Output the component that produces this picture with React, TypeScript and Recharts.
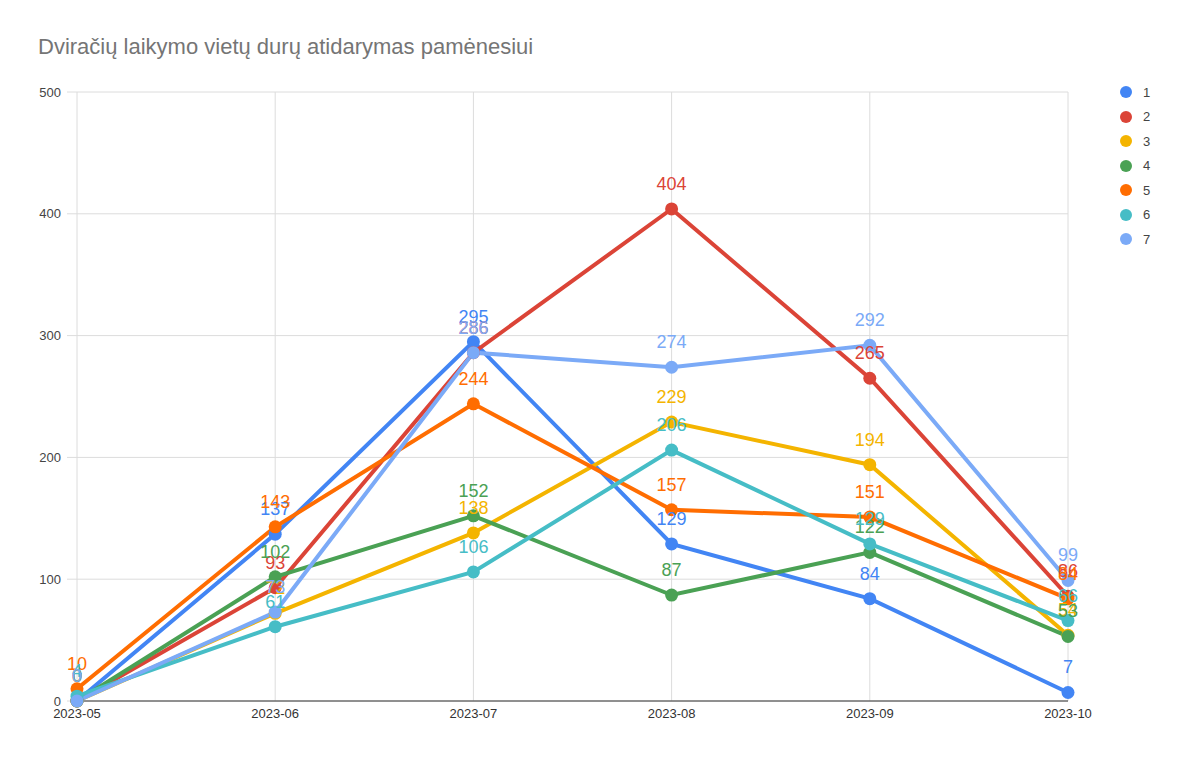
import React from 'react'
import {
  LineChart,
  Line,
  XAxis,
  YAxis,
  CartesianGrid,
  LabelList,
} from 'recharts'

const months = ['2023-05', '2023-06', '2023-07', '2023-08', '2023-09', '2023-10']
const s1 = [0, 137, 295, 129, 84, 7]
const s2 = [0, 93, 286, 404, 265, 86]
const s3 = [0, 72, 138, 229, 194, 54]
const s4 = [0, 102, 152, 87, 122, 53]
const s5 = [10, 143, 244, 157, 151, 84]
const s6 = [4, 61, 106, 206, 129, 66]
const s7 = [0, 73, 286, 274, 292, 99]
const yTicks = [0, 100, 200, 300, 400, 500]

const seriesNames = ['1', '2', '3', '4', '5', '6', '7']
const seriesValues = [s1, s2, s3, s4, s5, s6, s7]
const colors = ['#4285F4', '#DB4437', '#F4B400', '#4AA154', '#FF6D01', '#46BDC6', '#7BAAF7']

const data = months.map((m, i) => {
  const row: Record<string, string | number> = { month: m }
  seriesNames.forEach((n, k) => {
    row['s' + n] = seriesValues[k][i]
  })
  return row
})

const font = 'Arial, "Liberation Sans", sans-serif'

function LegendBox() {
  return (
    <div style={{ position: 'absolute', left: 1120, top: 80, fontFamily: font }}>
      {seriesNames.map((n, k) => (
        <div
          key={n}
          style={{ display: 'flex', alignItems: 'center', height: 24.5 }}
        >
          <span
            style={{
              width: 12,
              height: 12,
              borderRadius: '50%',
              background: colors[k],
              display: 'inline-block',
              marginRight: 11,
            }}
          />
          <span style={{ fontSize: 13, color: '#444' }}>{n}</span>
        </div>
      ))}
    </div>
  )
}

export default function App() {
  return (
    <div style={{ position: 'absolute', left: 0, top: 0, width: 1200, height: 760, background: '#fff' }}>
      <div
        style={{
          position: 'absolute',
          left: 38,
          top: 34,
          fontFamily: font,
          fontSize: 22,
          lineHeight: '26px',
          color: '#757575',
        }}
      >
        Dviračių laikymo vietų durų atidarymas pamėnesiui
      </div>
      <LegendBox />
      <LineChart
        width={1200}
        height={760}
        data={data}
        margin={{ top: 92, right: 132, left: 0, bottom: 29 }}
        style={{ fontFamily: font, position: 'absolute', left: 0, top: 0 }}
      >
        <CartesianGrid stroke="#dcdcdc" strokeWidth={1} />
        <XAxis
          dataKey="month"
          interval={0}
          height={30}
          tickSize={0}
          tickMargin={8}
          axisLine={{ stroke: '#333', strokeWidth: 1 }}
          tick={{ fontSize: 13, fill: '#333' }}
        />
        <YAxis
          width={77}
          domain={[0, 500]}
          ticks={yTicks}
          tickSize={10}
          tickMargin={6}
          tickLine={{ stroke: '#dcdcdc' }}
          axisLine={false}
          tick={{ fontSize: 13, fill: '#444' }}
        />
        {seriesNames.map((n, k) => (
          <Line
            key={n}
            type="linear"
            dataKey={'s' + n}
            name={n}
            stroke={colors[k]}
            strokeWidth={4}
            dot={{ r: 6.5, fill: colors[k], stroke: colors[k], strokeWidth: 0 }}
            activeDot={false}
            isAnimationActive={false}
          >
            <LabelList
              dataKey={'s' + n}
              position="top"
              offset={19}
              fill={colors[k]}
              fontSize={18}
            />
          </Line>
        ))}
      </LineChart>
    </div>
  )
}
